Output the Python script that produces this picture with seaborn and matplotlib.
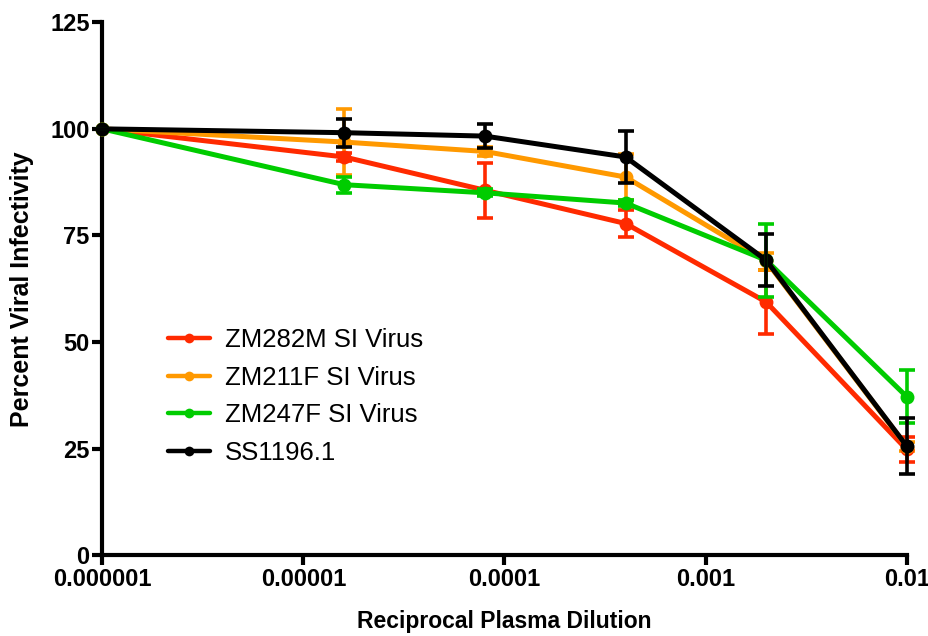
import matplotlib
matplotlib.use("Agg")
import matplotlib.pyplot as plt
import seaborn as sns
import pandas as pd
from matplotlib.ticker import FixedLocator, FixedFormatter, NullLocator

# Reciprocal plasma dilutions (5-fold series, first point = no-plasma control)
dilutions = [1e-6, 1.6e-5, 8e-5, 4e-4, 2e-3, 1e-2]

series_names = ["ZM282M SI Virus", "ZM211F SI Virus", "ZM247F SI Virus", "SS1196.1"]

zm282m_mean = [100, 93.4, 85.6, 77.8, 59.4, 24.8]
zm282m_err = [0, 1.0, 6.4, 3.2, 7.5, 2.9]

zm211f_mean = [100, 96.9, 94.7, 88.7, 69.0, 25.5]
zm211f_err = [0, 7.7, 1.0, 5.3, 2.0, 1.0]

zm247f_mean = [100, 86.9, 85.0, 82.6, 69.2, 37.2]
zm247f_err = [0, 1.9, 0.8, 0.8, 8.6, 6.2]

ss1196_mean = [100, 99.1, 98.3, 93.4, 69.2, 25.6]
ss1196_err = [0, 3.3, 2.9, 6.0, 6.1, 6.6]

colors = ["#FF2A00", "#FF9900", "#00CC00", "#000000"]

x_ticks = [1e-6, 1e-5, 1e-4, 1e-3, 1e-2]
x_tick_labels = ["0.000001", "0.00001", "0.0001", "0.001", "0.01"]
y_ticks = [0, 25, 50, 75, 100, 125]

means = [zm282m_mean, zm211f_mean, zm247f_mean, ss1196_mean]
errs = [zm282m_err, zm211f_err, zm247f_err, ss1196_err]

df = pd.concat(
    [pd.DataFrame({"dilution": dilutions, "infectivity": m, "err": e, "virus": n})
     for n, m, e in zip(series_names, means, errs)],
    ignore_index=True,
)

sns.set_theme(style="ticks")
plt.rcParams["font.family"] = ["Liberation Sans", "DejaVu Sans"]
plt.rcParams["text.color"] = "black"
plt.rcParams["axes.labelcolor"] = "black"
plt.rcParams["xtick.color"] = "black"
plt.rcParams["ytick.color"] = "black"

fig = plt.figure(figsize=(9.29, 6.36), dpi=100)
ax = fig.add_axes([0.110, 0.127, 0.866, 0.838])

palette = dict(zip(series_names, colors))

# error bars first, lines and markers on top
for i, name in enumerate(series_names):
    sub = df[df["virus"] == name]
    ax.errorbar(sub["dilution"], sub["infectivity"], yerr=sub["err"],
                fmt="none", ecolor=colors[i], elinewidth=2.6, capsize=6,
                capthick=2.6, clip_on=False, zorder=2 + i)

sns.lineplot(data=df, x="dilution", y="infectivity", hue="virus",
             hue_order=series_names, palette=palette, marker="o",
             markersize=10, markeredgewidth=0, linewidth=3.6,
             errorbar=None, ax=ax, clip_on=False, zorder=3)

for line in ax.get_lines():
    line.set_clip_on(False)

ax.set_xscale("log")
ax.set_xlim(1e-6, 1e-2)
ax.set_ylim(0, 125)
ax.xaxis.set_major_locator(FixedLocator(x_ticks))
ax.xaxis.set_major_formatter(FixedFormatter(x_tick_labels))
ax.xaxis.set_minor_locator(NullLocator())
ax.set_yticks(y_ticks)

for side in ["top", "right"]:
    ax.spines[side].set_visible(False)
for side in ["left", "bottom"]:
    ax.spines[side].set_linewidth(3)
    ax.spines[side].set_color("black")

ax.tick_params(axis="both", which="major", length=7, width=3, color="black",
               labelcolor="black", direction="out", labelsize=17, pad=2)
for lab in ax.get_xticklabels() + ax.get_yticklabels():
    lab.set_fontweight("bold")

ax.set_xlabel("Reciprocal Plasma Dilution", fontsize=16.5, fontweight="bold",
              labelpad=14, color="black")
ax.set_ylabel("Percent Viral Infectivity", fontsize=18, fontweight="bold",
              labelpad=12, color="black")

handles, labels = ax.get_legend_handles_labels()
leg = ax.legend(handles, labels, loc="center left",
                bbox_to_anchor=(168 / 929, 1 - 396.5 / 636),
                bbox_transform=fig.transFigure, borderaxespad=0, borderpad=0,
                frameon=False, fontsize=18.5, handlelength=1.63,
                handletextpad=0.58, labelspacing=0.54, labelcolor="black")
for h in leg.legend_handles:
    h.set_linewidth(3.2)
    h.set_markersize(7)

fig.savefig("out.png", dpi=100)
